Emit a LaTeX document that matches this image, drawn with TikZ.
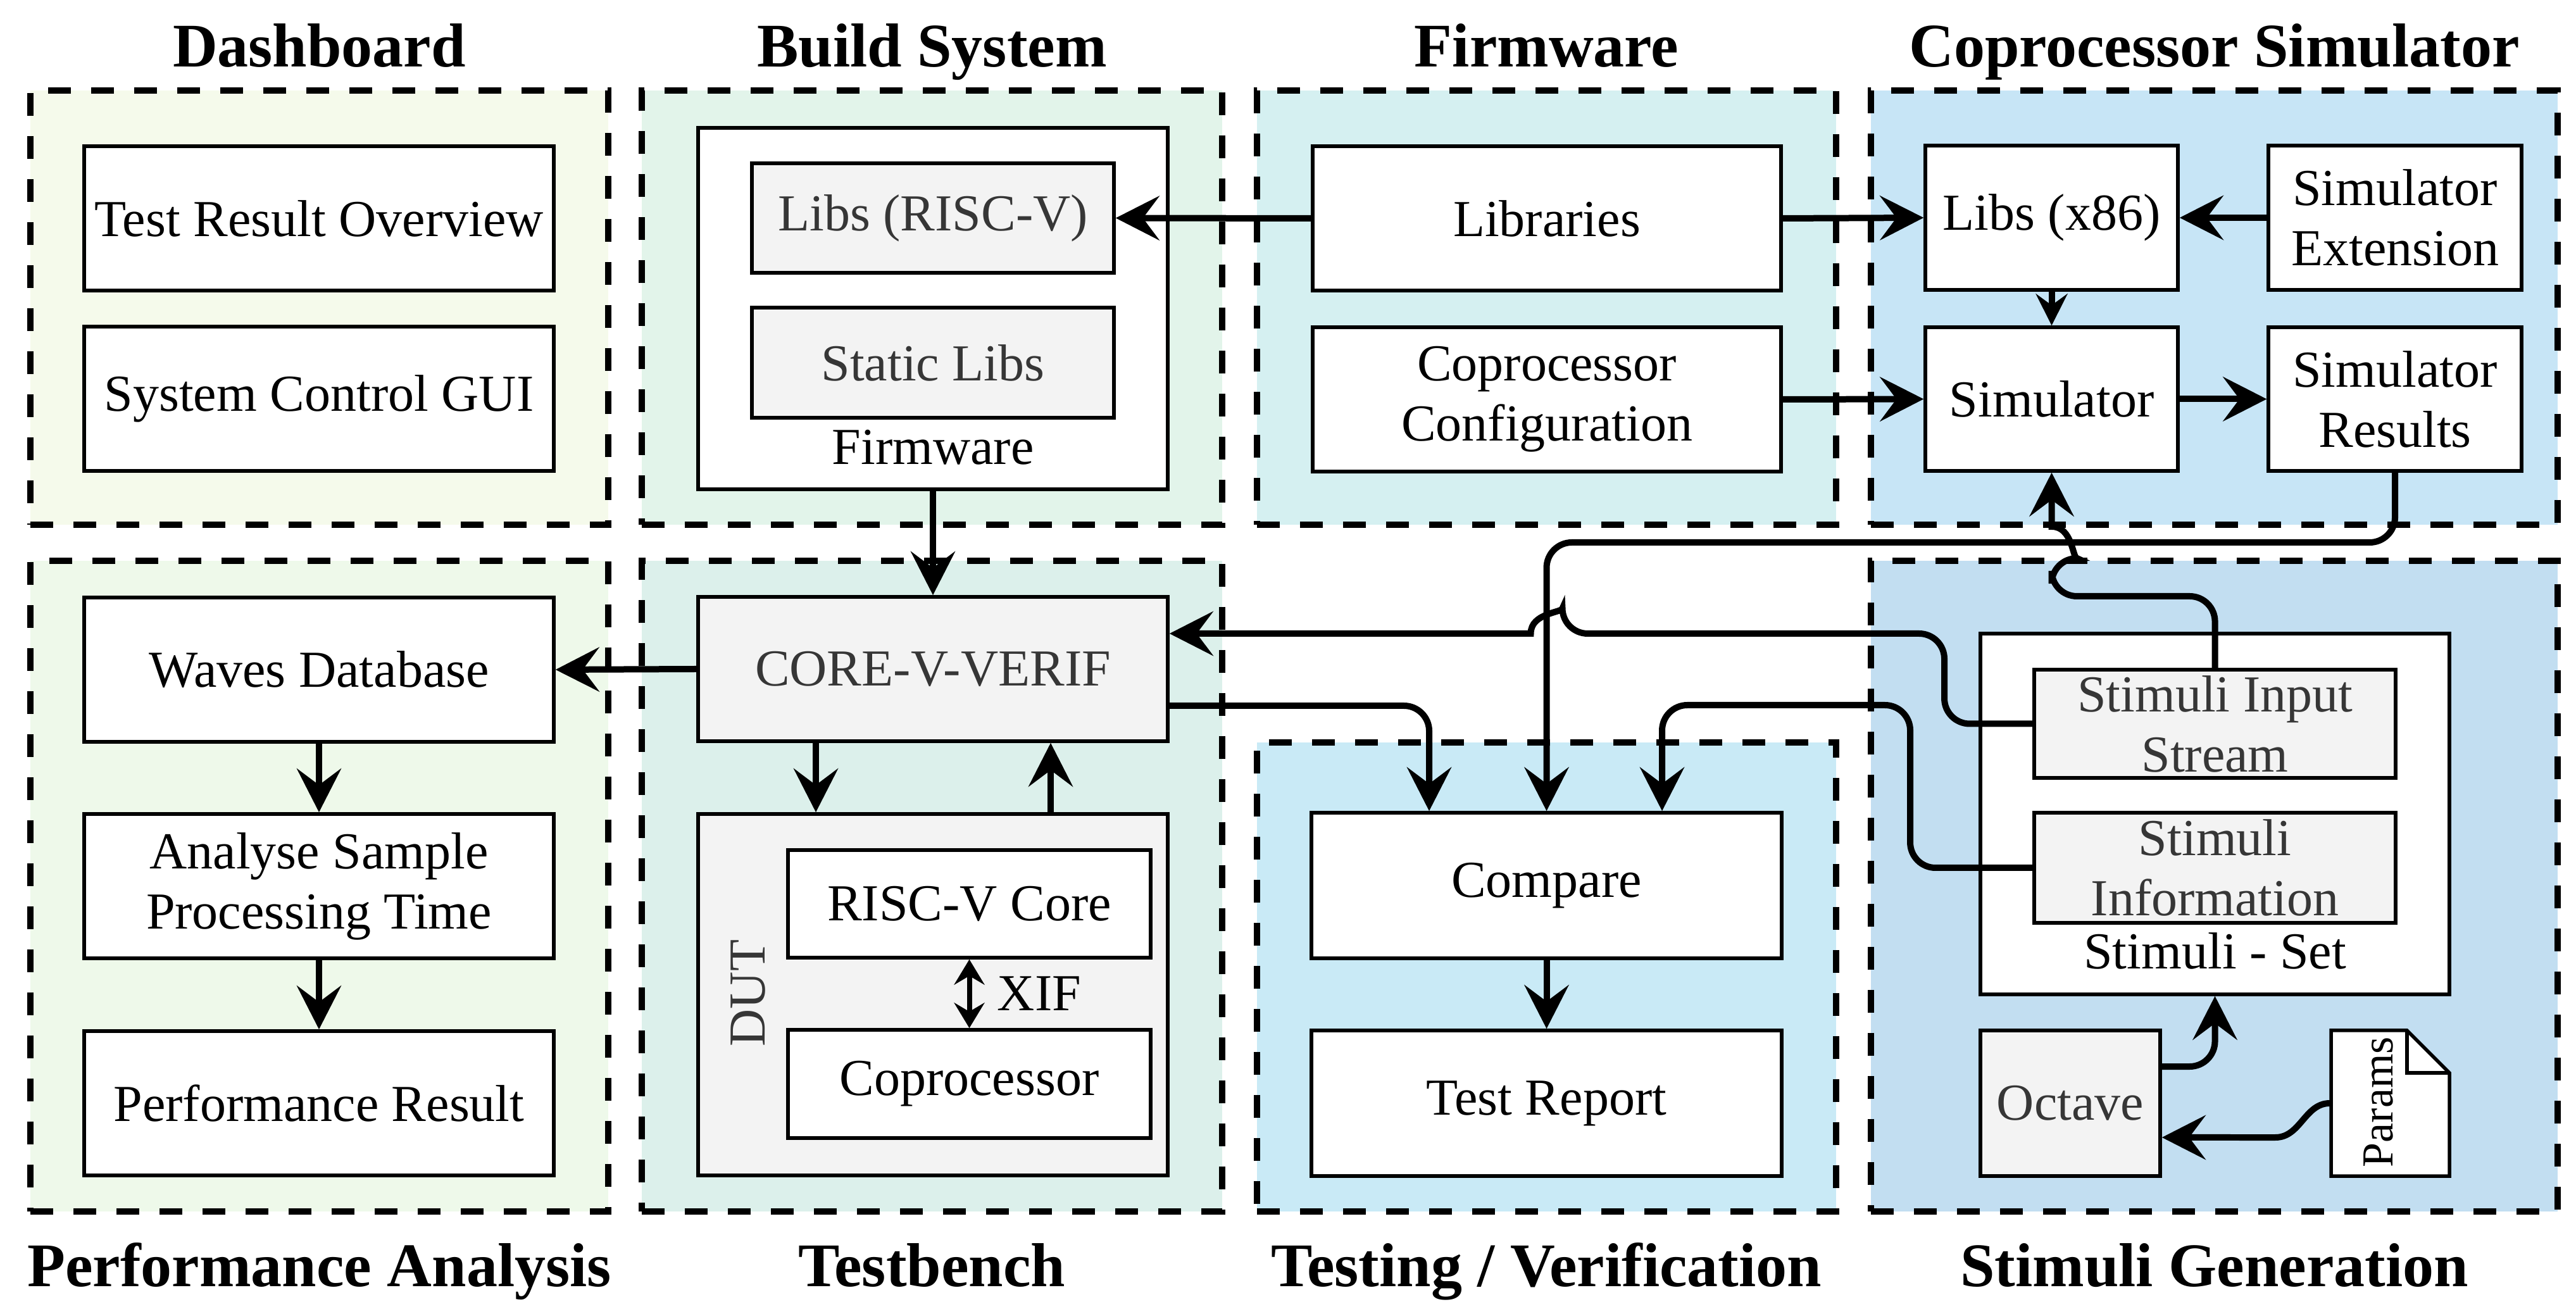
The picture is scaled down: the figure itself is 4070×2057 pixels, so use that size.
\documentclass[tikz,border=0pt]{standalone}
\usepackage{fontspec}
\setmainfont{Liberation Serif}
\usetikzlibrary{arrows.meta,calc}

\definecolor{cDash}{HTML}{F5FAEB}
\definecolor{cBuild}{HTML}{E2F4EA}
\definecolor{cFirm}{HTML}{D5F0F1}
\definecolor{cSim}{HTML}{C7E5F6}
\definecolor{cPerf}{HTML}{EEF9EA}
\definecolor{cBench}{HTML}{DCF0EB}
\definecolor{cTest}{HTML}{C9EAF6}
\definecolor{cStim}{HTML}{C2DEF1}
\definecolor{cGrayBox}{HTML}{F3F3F3}
\definecolor{cGrayText}{HTML}{363636}

\newcommand\diagbody{\fontsize{8.2pt}{9.5pt}\selectfont}
\newcommand\diagtitle{\fontsize{9.8pt}{11pt}\selectfont\bfseries}

\tikzset{
  group/.style={draw, line width=1pt, dash pattern=on 3.6pt off 3.2pt, inner sep=0pt},
  box/.style={draw, line width=0.55pt, fill=white, inner sep=0pt, align=center, font=\diagbody},
  graybox/.style={box, fill=cGrayBox, text=cGrayText},
  title/.style={font=\diagtitle, anchor=base, inner sep=0pt},
  lbl/.style={font=\diagbody, inner sep=0pt},
  arr/.style={line width=1pt, -{Stealth[length=6.9pt,width=7pt,inset=2.6pt]}},
  smallarr/.style={line width=1pt, -{Stealth[length=5pt,width=5pt,inset=1.8pt]}},
  xifarr/.style={line width=0.8pt, {Stealth[length=4pt,width=4.8pt,inset=1.4pt]}-{Stealth[length=4pt,width=4.8pt,inset=1.4pt]}},
  rc/.style={rounded corners=4pt},
}

\begin{document}
\begin{tikzpicture}[x=0.1pt, y=-0.1pt]
\useasboundingbox (0,0) rectangle (4070,2057);
\fill[white] (0,0) rectangle (4070,2057);

% ---------- group frames ----------
\node[group, fill=cDash,  minimum width=91.3pt, minimum height=68.6pt]  (gDash)  at (504.5,486) {};
\node[group, fill=cBuild, minimum width=91.7pt, minimum height=68.6pt]  (gBuild) at (1472.5,486) {};
\node[group, fill=cFirm,  minimum width=91.5pt, minimum height=68.6pt]  (gFirm)  at (2443.5,486) {};
\node[group, fill=cSim,   minimum width=108.5pt, minimum height=68.6pt] (gSim)   at (3498.5,486) {};
\node[group, fill=cPerf,  minimum width=91.3pt, minimum height=102.8pt] (gPerf)  at (504.5,1400) {};
\node[group, fill=cBench, minimum width=91.7pt, minimum height=102.8pt] (gBench) at (1472.5,1400) {};
\node[group, fill=cTest,  minimum width=91.5pt, minimum height=74.1pt]  (gTest)  at (2443.5,1543.5) {};
\node[group, fill=cStim,  minimum width=108.5pt, minimum height=102.8pt] (gStim) at (3498.5,1400) {};

% ---------- titles ----------
\node[title] (tDash)  at (504.5,106)  {Dashboard};
\node[title] (tBuild) at (1472.5,106) {Build System};
\node[title] (tFirm)  at (2443.5,106) {Firmware};
\node[title] (tSim)   at (3498.5,106) {Coprocessor Simulator};
\node[title] (tPerf)  at (504.5,2032)  {Performance Analysis};
\node[title] (tBench) at (1472.5,2032) {Testbench};
\node[title] (tTest)  at (2443.5,2032) {Testing / Verification};
\node[title] (tStim)  at (3498.5,2032) {Stimuli Generation};

% ---------- dashboard ----------
\node[box, minimum width=74.2pt, minimum height=22.8pt] (tro) at (504,345) {Test Result Overview};
\node[box, minimum width=74.2pt, minimum height=22.8pt] (scg) at (504,630) {System Control GUI};

% ---------- build system ----------
\node[box, minimum width=74.2pt, minimum height=57.1pt] (fwbox) at (1474,487.5) {};
\node[graybox, minimum width=57.2pt, minimum height=17.3pt] (librv) at (1474,344.5) {Libs (RISC-V)};
\node[graybox, minimum width=57.2pt, minimum height=17.4pt] (static) at (1474,573) {Static Libs};
\node[lbl, anchor=base] (fwlbl) at (1474,734) {Firmware};

% ---------- firmware ----------
\node[box, minimum width=74pt, minimum height=22.8pt] (libs) at (2444,345) {Libraries};
\node[box, minimum width=74pt, minimum height=22.8pt] (ccfg) at (2444,631) {Coprocessor\\Configuration};

% ---------- coprocessor simulator ----------
\node[box, minimum width=39.9pt, minimum height=22.8pt] (lx86) at (3241.5,344) {Libs (x86)};
\node[box, minimum width=40pt, minimum height=22.8pt] (sext) at (3784,344) {Simulator\\Extension};
\node[box, minimum width=39.9pt, minimum height=22.7pt] (sim) at (3241.5,630.5) {Simulator};
\node[box, minimum width=40pt, minimum height=22.7pt] (sres) at (3784,630.5) {Simulator\\Results};

% ---------- performance analysis ----------
\node[box, minimum width=74.2pt, minimum height=22.8pt] (waves) at (504,1058) {Waves Database};
\node[box, minimum width=74.2pt, minimum height=22.8pt] (asp) at (504,1400) {Analyse Sample\\Processing Time};
\node[box, minimum width=74.2pt, minimum height=22.8pt] (pres) at (504,1743) {Performance Result};

% ---------- testbench ----------
\node[graybox, minimum width=74.2pt, minimum height=22.8pt] (core) at (1474,1057) {CORE-V-VERIF};
\node[graybox, minimum width=74.2pt, minimum height=57.1pt] (dut) at (1474,1571.5) {};
\node[lbl, rotate=90, text=cGrayText] (dutlbl) at (1182,1569) {DUT};
\node[box, minimum width=57.3pt, minimum height=17pt] (rv) at (1531.5,1428) {RISC-V Core};
\node[box, minimum width=57.3pt, minimum height=17.1pt] (cop) at (1531.5,1712.5) {Coprocessor};
\node[lbl] (xiflbl) at (1642,1570) {XIF};

% ---------- testing / verification ----------
\node[box, minimum width=74.3pt, minimum height=23pt] (cmp) at (2443.5,1399) {Compare};
\node[box, minimum width=74.3pt, minimum height=23pt] (trep) at (2443.5,1743) {Test Report};

% ---------- stimuli generation ----------
\node[box, minimum width=74.1pt, minimum height=57pt] (sset) at (3499.5,1286) {};
\node[graybox, minimum width=57.1pt, minimum height=17.1pt] (sis) at (3499.5,1143.5) {Stimuli Input\\Stream};
\node[graybox, minimum width=57.1pt, minimum height=17.4pt] (sinf) at (3499.5,1371) {Stimuli\\Information};
\node[lbl, anchor=base] (ssetlbl) at (3499.5,1531) {Stimuli - Set};
\node[graybox, minimum width=28.4pt, minimum height=23pt] (oct) at (3271,1743) {Octave};
% parameter file with folded corner
\draw[line width=0.55pt, fill=white] (3683,1628) -- (3803,1628) -- (3870,1695) -- (3870,1858) -- (3683,1858) -- cycle;
\draw[line width=0.55pt] (3803,1628) -- (3803,1695) -- (3870,1695);
\node[inner sep=0pt, minimum width=18.7pt, minimum height=23pt] (params) at (3776.5,1743) {};
\node[inner sep=0pt, rotate=90, font=\fontsize{7pt}{8pt}\selectfont] (paramslbl) at (3758,1741) {Params};

% ---------- connectors ----------
\draw[arr] (libs.west) -- (librv.east);
\draw[arr] (libs.east) -- (lx86.west);
\draw[arr] (ccfg.east) -- (sim.west);
\draw[arr] (sext.west) -- (lx86.east);
\draw[smallarr] (lx86.south) -- (sim.north);
\draw[arr] (sim.east) -- (sres.west);

\draw[arr] (fwbox.south) -- (core.north);
\draw[arr] (core.west) -- (waves.east);
\draw[arr] (waves.south) -- (asp.north);
\draw[arr] (asp.south) -- (pres.north);
\draw[arr] ([xshift=-18.5pt]core.south) -- ([xshift=-18.5pt]dut.north);
\draw[arr] ([xshift=18.6pt]dut.north) -- ([xshift=18.6pt]core.south);
\draw[xifarr] (rv.south) -- (cop.north);
\draw[arr] (cmp.south) -- (trep.north);

% verification output to compare
\draw[arr, rc] ([yshift=-5.8pt]core.east) -| ([xshift=-18.55pt]cmp.north);
% simulator results to compare
\coordinate (busA) at (2443.5,857);
\draw[arr, rc] (sres.south) |- (busA) -- (cmp.north);
% input stream to simulator, hopping over the results bus
\draw[arr, rc] (sis.north) |- (3241.5,942) -- (3241.5,882) [sharp corners]
  .. controls (3274.5,882) and (3274.5,832) .. (3241.5,832) -- (sim.south);
% input stream to the testbench, hopping over the results line
\draw[arr, rc] (sis.west) -| (3072,1001) -- (2468.5,1001) [sharp corners]
  .. controls (2468.5,968) and (2418.5,968) .. (2418.5,1001) -- ([yshift=5.6pt]core.east);
% stimuli information to compare
\draw[arr, rc] (sinf.west) -| (3018,1114) -| ([xshift=18.25pt]cmp.north);
% octave output to stimuli set
\draw[arr, rc] ([yshift=5.8pt]oct.east) -| (sset.south);
% parameters into octave
\draw[arr] (params.west) to[out=180,in=0] (3595,1797) -- ([yshift=-5.4pt]oct.east);
\end{tikzpicture}
\end{document}
